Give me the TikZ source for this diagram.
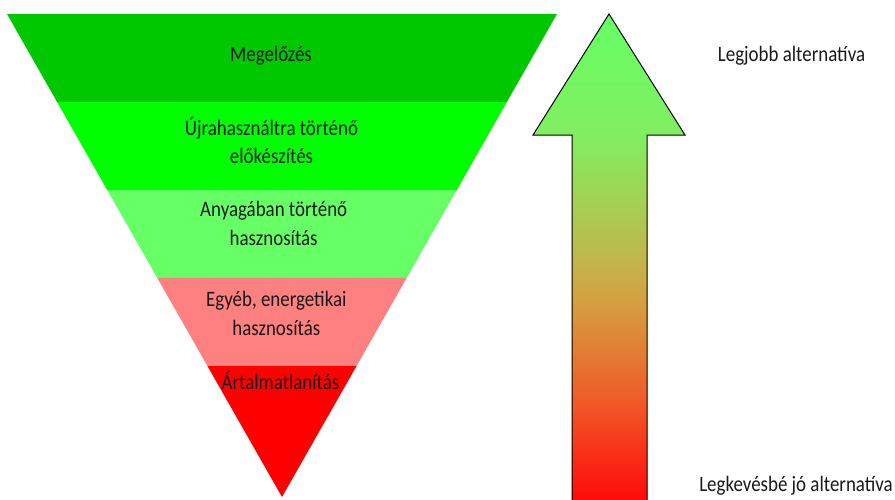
\documentclass[tikz,border=0pt]{standalone}
\usepackage{fontspec}
\setmainfont{Carlito}
\newfontfamily\lblfont[FakeStretch=0.86]{Carlito}
\usetikzlibrary{calc}
\definecolor{bandA}{RGB}{0,200,0}
\definecolor{bandB}{RGB}{0,255,0}
\definecolor{bandC}{RGB}{102,255,102}
\definecolor{bandD}{RGB}{255,128,128}
\definecolor{bandE}{RGB}{255,0,0}
\definecolor{txt}{RGB}{25,25,25}
\pgfdeclareverticalshading{arrowshade}{100bp}{%
  color(0bp)=(red);
  color(25bp)=(red);
  color(26.1bp)=(rgb,255:red,255;green,10;blue,10);
  color(36.1bp)=(rgb,255:red,240;green,90;blue,40);
  color(46.2bp)=(rgb,255:red,212;green,160;blue,64);
  color(50.9bp)=(rgb,255:red,190;green,185;blue,75);
  color(62.8bp)=(rgb,255:red,130;green,238;blue,95);
  color(75bp)=(rgb,255:red,102;green,255;blue,102);
  color(100bp)=(rgb,255:red,102;green,255;blue,102)}
\tikzset{
  band/.style={draw=none},
  lbl/.style={anchor=base, align=center, inner sep=0pt, text=txt,
    font=\lblfont\fontsize{22}{28.5}\selectfont},
  arrowbody/.style={draw=black, line width=1pt, line join=miter, shading=arrowshade}
}
\begin{document}
\begin{tikzpicture}[x=1pt,y=-1pt]
\useasboundingbox (0,0) rectangle (895,499);
\clip (0,0) rectangle (895,499);
% triangle corners
\coordinate (TL) at (7,14);
\coordinate (TR) at (557,14);
\coordinate (AP) at (282,497);
\foreach \k in {1,2,3,4}{
  \coordinate (L\k) at ($(TL)!{\k*88/483}!(AP)$);
  \coordinate (R\k) at ($(TR)!{\k*88/483}!(AP)$);
}
\fill[band, bandA] (TL) -- (TR) -- (R1) -- (L1) -- cycle;
\fill[band, bandB] (L1) -- (R1) -- (R2) -- (L2) -- cycle;
\fill[band, bandC] (L2) -- (R2) -- (R3) -- (L3) -- cycle;
\fill[band, bandD] (L3) -- (R3) -- (R4) -- (L4) -- cycle;
\fill[band, bandE] (L4) -- (R4) -- (AP) -- cycle;
% labels (base anchor = baseline of last line)
\node[lbl] (t1) at (271,61.7) {Megelőzés};
\node[lbl] (t2) at (271.5,163.5) {Újrahasználtra történő\\előkészítés};
\node[lbl] (t3) at (273.7,245.2) {Anyagában történő\\hasznosítás};
\node[lbl] (t4) at (276.3,335.2) {Egyéb, energetikai\\hasznosítás};
\node[lbl] (t5) at (280.5,389) {Ártalmatlanítás};
% arrow
\shade[arrowbody] (609,14) -- (685,135) -- (647,135) -- (647,512) -- (572,512) -- (572,135) -- (533,135) -- cycle;
% right labels
\node[lbl] (best) at (791.5,61.7) {Legjobb alternatíva};
\node[lbl] (worst) at (796,491.7) {Legkevésbé jó alternatíva};
\end{tikzpicture}
\end{document}
